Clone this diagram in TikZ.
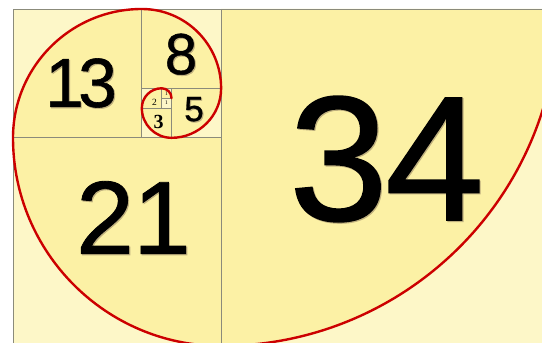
\documentclass[tikz,border=0pt]{standalone}
\usepackage{fontspec}
\newfontfamily\numf[FakeBold=0.8]{Liberation Sans}
\newfontfamily\serf{Liberation Serif}
\definecolor{inner}{HTML}{FCF1A5}
\definecolor{outer}{HTML}{FDF7C8}
\definecolor{edge}{HTML}{8B8B7B}
\definecolor{spiralred}{HTML}{CC0000}
\definecolor{shade}{HTML}{BFB07E}
\newcommand\UU[2]{({13+9.91*(#1)},{334-9.91*(#2)})}
\tikzset{
  sq/.style={draw=edge, line width=0.9pt},
  sector/.style={fill=inner, draw=none},
  spiral/.style={draw=spiralred, line width=2.4pt, line cap=round},
  num/.style={inner sep=0pt, anchor=center, text=black},
  numshadow/.style={inner sep=0pt, anchor=center, text=shade, xshift=1.1pt, yshift=-1.1pt}
}
\newcommand\bignum[4]{% name, x, y, size+text
  \node[numshadow] (#1s) at (#2,#3) {#4};
  \node[num] (#1) at (#2,#3) {#4};}
\begin{document}
\begin{tikzpicture}[x=1pt,y=1pt]
\useasboundingbox (0,0) rectangle (542,343);
\fill[white] (0,0) rectangle (542,343);
\begin{scope}
\clip (0,0) rectangle (542,343);
% light background of the whole golden rectangle
\fill[outer] \UU{0}{0} rectangle \UU{55}{34};
% darker quarter discs inside the spiral
\fill[sector] \UU{21}{0} -- ++(-90:336.94) arc[start angle=-90,end angle=0,radius=336.94] -- cycle;
\fill[sector] \UU{21}{13} -- ++(180:208.11) arc[start angle=180,end angle=270,radius=208.11] -- cycle;
\fill[sector] \UU{13}{13} -- ++(90:128.83) arc[start angle=90,end angle=180,radius=128.83] -- cycle;
\fill[sector] \UU{13}{8} -- ++(0:79.28) arc[start angle=0,end angle=90,radius=79.28] -- cycle;
\fill[sector] \UU{16}{8} -- ++(-90:49.55) arc[start angle=-90,end angle=0,radius=49.55] -- cycle;
\fill[sector] \UU{16}{10} -- ++(180:29.73) arc[start angle=180,end angle=270,radius=29.73] -- cycle;
\fill[sector] \UU{15}{10} -- ++(90:19.82) arc[start angle=90,end angle=180,radius=19.82] -- cycle;
\fill[sector] \UU{15}{9} -- ++(0:9.91) arc[start angle=0,end angle=90,radius=9.91] -- cycle;
% squares
\draw[sq] \UU{0}{0} rectangle \UU{55}{34};
\draw[sq] \UU{0}{0} rectangle \UU{13}{13};
\draw[sq] \UU{13}{0} rectangle \UU{21}{8};
\draw[sq] \UU{16}{8} rectangle \UU{21}{13};
\draw[sq] \UU{13}{10} rectangle \UU{16}{13};
\draw[sq] \UU{13}{8} rectangle \UU{15}{10};
\draw[sq] \UU{15}{8} rectangle \UU{16}{9};
\draw[sq] \UU{15}{9} rectangle \UU{16}{10};
\draw[sq] \UU{0}{13} rectangle \UU{21}{34};
\draw[sq] \UU{21}{0} rectangle \UU{55}{34};
% labels
\bignum{n34}{386.5}{184}{\numf\fontsize{178}{178}\selectfont 3\kern-3pt 4}
\bignum{n21}{133.5}{125.5}{\numf\fontsize{104}{104}\selectfont 2\kern-1pt 1}
\bignum{n13}{81}{260}{\numf\fontsize{69.5}{69.5}\selectfont 1\kern-5.5pt 3}
\bignum{n8}{181}{288.8}{\numf\fontsize{58}{58}\selectfont 8}
\bignum{n5}{194}{233.8}{\numf\fontsize{35}{35}\selectfont 5}
\node[num] (n3) at (158.5,221.5) {\serf\bfseries\fontsize{20}{20}\selectfont 3};
\node[num] (n2) at (154.5,241) {\serf\fontsize{9.5}{9.5}\selectfont 2};
\node[num] (n1a) at (166.6,249.8) {\serf\fontsize{5.5}{5.5}\selectfont 1};
\node[num] (n1b) at (166.6,239.9) {\serf\fontsize{5.5}{5.5}\selectfont 1};
% spiral
\draw[spiral] \UU{55}{0}
  arc[start angle=0,end angle=-90,radius=336.94]
  arc[start angle=-90,end angle=-180,radius=208.11]
  arc[start angle=180,end angle=90,radius=128.83]
  arc[start angle=90,end angle=0,radius=79.28]
  arc[start angle=0,end angle=-90,radius=49.55]
  arc[start angle=270,end angle=180,radius=29.73]
  arc[start angle=180,end angle=90,radius=19.82]
  arc[start angle=90,end angle=0,radius=9.91];
\end{scope}
\end{tikzpicture}
\end{document}
